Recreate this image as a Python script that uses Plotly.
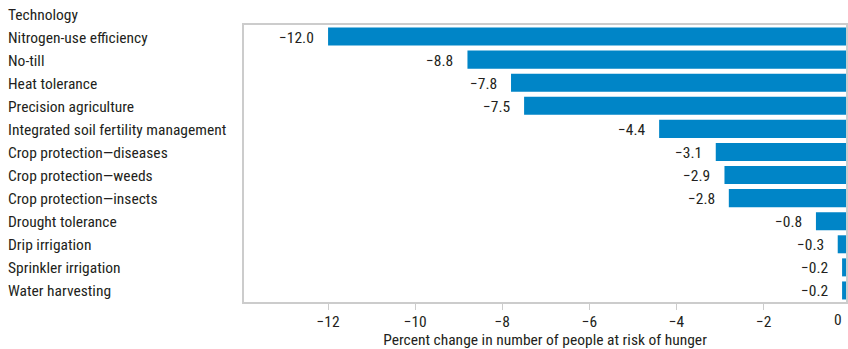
import plotly.graph_objects as go

technologies = [
    "Nitrogen-use efficiency",
    "No-till",
    "Heat tolerance",
    "Precision agriculture",
    "Integrated soil fertility management",
    "Crop protection\u2014diseases",
    "Crop protection\u2014weeds",
    "Crop protection\u2014insects",
    "Drought tolerance",
    "Drip irrigation",
    "Sprinkler irrigation",
    "Water harvesting",
]
values = [-12.0, -8.8, -7.8, -7.5, -4.4, -3.1, -2.9, -2.8, -0.8, -0.3, -0.2, -0.2]
tick_values = [-12, -10, -8, -6, -4, -2]
tick_labels = ["\u221212", "\u221210", "\u22128", "\u22126", "\u22124", "\u22122"]
header = "Technology"
x_title = "Percent change in number of people at risk of hunger"

FONT = "Liberation Sans Narrow, Roboto Condensed, Arial Narrow, Roboto, sans-serif"
FS = 15.5
TEXT = "#231f20"
BAR = "#0085c7"
GRID = "#cccccc"

W, H = 848, 349
ML, MR, MT, MB = 244, 0, 25, 47
PW = W - ML - MR
PH = H - MT - MB

def px_to_paper_y(py):
    return (MT + PH - py) / PH

fig = go.Figure(go.Bar(
    x=values, y=technologies, orientation="h",
    marker=dict(color=BAR, line=dict(width=0)),
    hoverinfo="skip",
))

font = dict(family=FONT, size=FS, color=TEXT)
ann = []
LX = (5 - ML) / PW
for t in technologies:
    ann.append(dict(x=LX, xref="paper", y=t, yref="y", text=t, yshift=-1,
                    xanchor="left", yanchor="middle", showarrow=False, font=font))
ann.append(dict(x=LX, xref="paper", y=px_to_paper_y(15), yref="paper",
                text=header, xanchor="left", yanchor="middle", showarrow=False, font=font))
for t, v in zip(technologies, values):
    ann.append(dict(x=v, xref="x", y=t, yref="y", text=f"{v:.1f}".replace("-", "\u2212"),
                    xanchor="right", yanchor="middle", xshift=-12, yshift=-1,
                    showarrow=False, font=font))
ann.append(dict(x=(840 - ML) / PW, xref="paper", y=px_to_paper_y(320), yref="paper",
                text="0", xanchor="center", yanchor="middle", showarrow=False, font=font))

fig.update_layout(
    width=W, height=H,
    margin=dict(l=ML, r=MR, t=MT, b=MB, pad=0),
    paper_bgcolor="white", plot_bgcolor="white",
    showlegend=False, bargap=0.22,
    font=font,
    annotations=ann,
)
fig.update_xaxes(
    range=[-13.93, -0.11], tickvals=tick_values, ticktext=tick_labels,
    ticks="outside", ticklen=6, tickcolor=GRID, tickwidth=1,
    ticklabelstandoff=-2,
    showgrid=False, zeroline=False,
    showline=True, linecolor=GRID, linewidth=2, mirror=True,
    tickfont=font,
    title=dict(text=x_title, font=font, standoff=2),
    fixedrange=True,
)
fig.update_yaxes(
    categoryorder="array", categoryarray=technologies[::-1],
    range=[-0.5, len(technologies) - 0.5],
    showticklabels=False, ticks="", showgrid=False, zeroline=False,
    showline=True, linecolor=GRID, linewidth=2, mirror=True,
    fixedrange=True,
)

fig.write_html("out.html", config={"displayModeBar": False},
               post_script="document.body.style.margin='0';document.body.style.overflow='hidden';")
